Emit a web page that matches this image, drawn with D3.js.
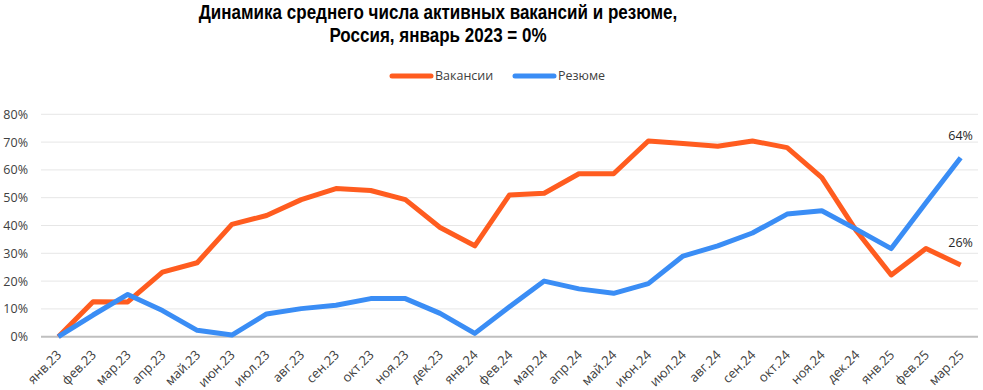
<!DOCTYPE html>
<html>
<head>
<meta charset="utf-8">
<script src="https://cdn.jsdelivr.net/npm/d3@7"></script>
<style>
  html, body { margin: 0; padding: 0; background: #fff; }
  svg { display: block; }
</style>
</head>
<body>
<svg id="chart" width="983" height="390"></svg>
<script>
const categories = ["янв.23","фев.23","мар.23","апр.23","май.23","июн.23","июл.23","авг.23","сен.23","окт.23","ноя.23","дек.23",
  "янв.24","фев.24","мар.24","апр.24","май.24","июн.24","июл.24","авг.24","сен.24","окт.24","ноя.24","дек.24",
  "янв.25","фев.25","мар.25"];
const vacancies = [0, 12.6, 12.5, 23.2, 26.6, 40.4, 43.6, 49.3, 53.3, 52.6, 49.3, 39.3,
  32.7, 51.0, 51.6, 58.6, 58.6, 70.4, 69.5, 68.5, 70.4, 68.0, 57.2, 38.0,
  22.2, 31.7, 25.8];
const resumes = [0, 7.8, 15.2, 9.4, 2.3, 0.6, 8.2, 10.1, 11.3, 13.7, 13.7, 8.4,
  1.2, 10.8, 20.0, 17.2, 15.6, 19.1, 29.0, 32.7, 37.3, 44.1, 45.3, 38.6,
  31.7, 48.2, 64.4];
const yTicks = [0, 10, 20, 30, 40, 50, 60, 70, 80];
const seriesNames = ["Вакансии", "Резюме"];
const colors = ["#FF5C1F", "#3A8DF5"];
const titleLines = ["Динамика среднего числа активных вакансий и резюме,", "Россия, январь 2023 = 0%"];

const svg = d3.select("#chart");
const plotLeft = 41, plotRight = 978, plotTop = 114.3, plotBottom = 336.7;

const x = d3.scaleBand().domain(categories).range([plotLeft, plotRight]).paddingInner(0).paddingOuter(0);
const y = d3.scaleLinear().domain([0, 80]).range([plotBottom, plotTop]);
const cx = c => x(c) + x.bandwidth() / 2;

// Title (horizontally condensed like the original)
const titleCenter = 438, titleWidth = 479;
const titleG = svg.append("g").attr("font-family", "'Liberation Sans', Arial, sans-serif")
  .attr("font-weight", "bold").attr("font-size", 20.5).attr("fill", "#000").attr("text-anchor", "middle");
const titleTexts = titleLines.map((t, i) =>
  titleG.append("text").attr("x", 0).attr("y", 19 + i * 23).text(t));
const w0 = titleTexts[0].node().getComputedTextLength();
const sx = w0 > 0 ? titleWidth / w0 : 1;
titleG.attr("transform", `translate(${titleCenter},0) scale(${sx},1)`);

// Legend
const legendItems = [{x: 390, name: seriesNames[0], color: colors[0]}, {x: 513, name: seriesNames[1], color: colors[1]}];
const lg = svg.append("g");
legendItems.forEach(d => {
  lg.append("line").attr("x1", d.x + 2).attr("x2", d.x + 41).attr("y1", 76).attr("y2", 76)
    .attr("stroke", d.color).attr("stroke-width", 5).attr("stroke-linecap", "round");
  lg.append("text").attr("x", d.x + 45).attr("y", 76).attr("dy", "0.35em")
    .attr("font-family", "'Open Sans', sans-serif").attr("font-size", 12.5).attr("fill", "#404040").text(d.name);
});

// Gridlines
svg.append("g").selectAll("line").data(yTicks.filter(t => t > 0)).join("line")
  .attr("x1", plotLeft).attr("x2", plotRight).attr("y1", d => y(d)).attr("y2", d => y(d))
  .attr("stroke", "#E6E6E6").attr("stroke-width", 1);

// Y axis labels
const yAxis = d3.axisLeft(y).tickValues(yTicks).tickFormat(d => d + "%").tickSize(0).tickPadding(0);
const yg = svg.append("g").attr("transform", `translate(28,0)`).call(yAxis);
yg.select(".domain").remove();
yg.selectAll("text").attr("font-family", "'Open Sans', sans-serif").attr("font-size", 12.5).attr("fill", "#404040");

// X axis line
svg.append("line").attr("x1", plotLeft).attr("x2", plotRight).attr("y1", y(0)).attr("y2", y(0))
  .attr("stroke", "#BFBFBF").attr("stroke-width", 2);

// X labels
const xAxis = d3.axisBottom(x).tickSize(0).tickPadding(0);
const xg = svg.append("g").attr("transform", `translate(0,${y(0)})`).call(xAxis);
xg.select(".domain").remove();
xg.selectAll("text")
  .attr("font-family", "'Open Sans', sans-serif").attr("font-size", 13).attr("fill", "#404040")
  .attr("text-anchor", "end").attr("dy", null).attr("y", 0)
  .attr("transform", "translate(4,19) rotate(-45)");

// Lines
const line = d3.line().x((d, i) => cx(categories[i])).y(d => y(d));
[vacancies, resumes].forEach((s, k) => {
  svg.append("path").datum(s).attr("d", line).attr("fill", "none")
    .attr("stroke", colors[k]).attr("stroke-width", 5).attr("stroke-linejoin", "round").attr("stroke-linecap", "butt");
});

// End labels
[resumes, vacancies].forEach(s => {
  const i = s.length - 1;
  svg.append("text").attr("x", cx(categories[i])).attr("y", y(s[i]) - 18)
    .attr("text-anchor", "middle").attr("font-family", "'Open Sans', sans-serif").attr("font-size", 12.5)
    .attr("fill", "#262626").text(Math.round(s[i]) + "%");
});
</script>
</body>
</html>
